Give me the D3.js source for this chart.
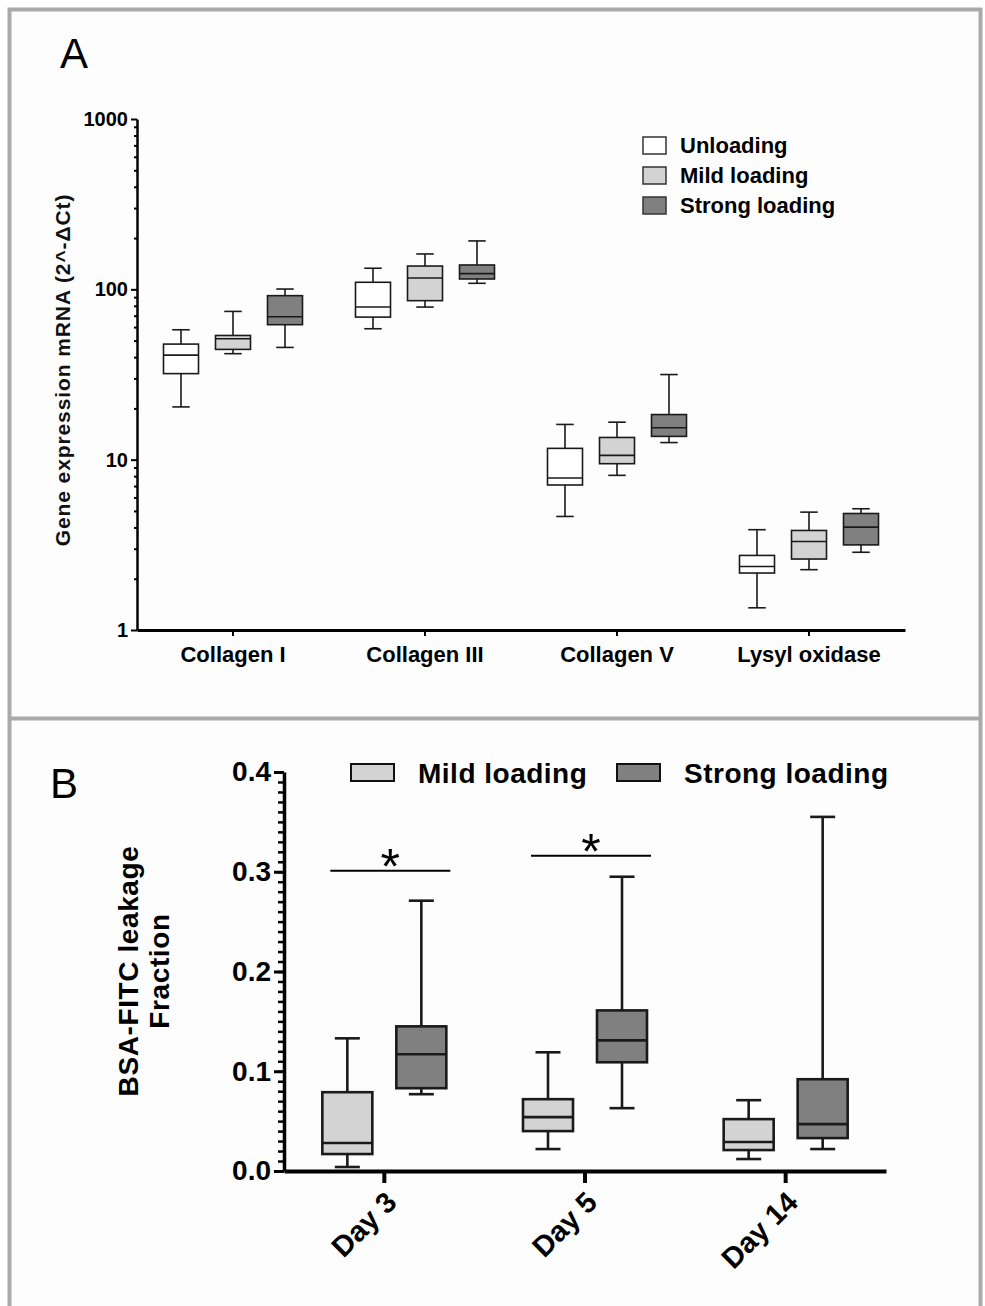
<!DOCTYPE html>
<html>
<head>
<meta charset="utf-8">
<script src="https://cdn.jsdelivr.net/npm/d3@7"></script>
<style>
  body { margin: 0; background: #fff; }
  svg { display: block; font-family: "Liberation Sans", Arial, sans-serif; }
</style>
</head>
<body>
<div id="fig"></div>
<script>
// panel A: gene expression, [min, q1, median, q3, max]
const genes = ['Collagen I', 'Collagen III', 'Collagen V', 'Lysyl oxidase'];
const groupsA = ['Unloading', 'Mild loading', 'Strong loading'];
const unloadingA = [[20.4, 32.0, 41.1, 47.7, 57.9], [58.7, 68.7, 78.7, 110, 133], [4.64, 7.1, 7.8, 11.65, 16.1], [1.35, 2.16, 2.36, 2.74, 3.88]];
const mildA = [[41.9, 44.4, 51.3, 53.6, 74.2], [78.7, 85.8, 116.6, 137, 161.3], [8.09, 9.47, 10.6, 13.5, 16.6], [2.26, 2.61, 3.31, 3.84, 4.92]];
const strongA = [[45.6, 62.0, 69.1, 91.8, 100.4], [108.5, 115, 123.7, 139, 192.4], [12.6, 13.7, 15.4, 18.4, 31.6], [2.86, 3.16, 4.02, 4.83, 5.15]];
const majorA = [1, 10, 100, 1000];

// panel B: BSA-FITC leakage fraction
const days = ['Day 3', 'Day 5', 'Day 14'];
const groupsB = ['Mild loading', 'Strong loading'];
const mildB = [[0.004, 0.017, 0.028, 0.079, 0.133], [0.022, 0.040, 0.054, 0.072, 0.119], [0.012, 0.021, 0.029, 0.052, 0.071]];
const strongB = [[0.077, 0.083, 0.117, 0.145, 0.271], [0.063, 0.109, 0.131, 0.161, 0.295], [0.022, 0.033, 0.047, 0.092, 0.355]];
const majorB = [0, 0.1, 0.2, 0.3, 0.4];
const sigDays = ['Day 3', 'Day 5'];
const sigLevels = [0.301, 0.316];

const fills = { 'Unloading': '#ffffff', 'Mild loading': '#d3d3d3', 'Strong loading': '#808080' };

const W = 985, H = 1306;
const svg = d3.select('#fig').append('svg').attr('width', W).attr('height', H);

// frame around both panels
svg.append('rect').attr('x', 9.5).attr('y', 9.5).attr('width', 971).attr('height', 1320)
    .attr('fill', '#fdfdfd').attr('stroke', '#aaa').attr('stroke-width', 4);
svg.append('line').attr('x1', 9).attr('x2', 981).attr('y1', 718.5).attr('y2', 718.5)
    .attr('stroke', '#aaa').attr('stroke-width', 4);

svg.append('text').attr('x', 60).attr('y', 68).attr('font-size', 42).text('A');
svg.append('text').attr('x', 50).attr('y', 798).attr('font-size', 42).text('B');

function drawBoxes(g, rows, cats, x, sub, y, name, boxW, sw) {
    const data = rows.map((r, i) => ({ cat: cats[i], v: r }));
    const grp = g.append('g').selectAll('g').data(data).join('g')
        .attr('transform', d => `translate(${x(d.cat) + x.bandwidth() / 2 + sub(name)},0)`)
        .attr('stroke', '#1a1a1a').attr('stroke-width', sw);
    grp.append('line').attr('x1', 0).attr('x2', 0).attr('y1', d => y(d.v[0])).attr('y2', d => y(d.v[1]));
    grp.append('line').attr('x1', 0).attr('x2', 0).attr('y1', d => y(d.v[3])).attr('y2', d => y(d.v[4]));
    grp.append('line').attr('x1', -boxW / 4).attr('x2', boxW / 4).attr('y1', d => y(d.v[0])).attr('y2', d => y(d.v[0]));
    grp.append('line').attr('x1', -boxW / 4).attr('x2', boxW / 4).attr('y1', d => y(d.v[4])).attr('y2', d => y(d.v[4]));
    grp.append('rect').attr('x', -boxW / 2).attr('width', boxW)
        .attr('y', d => y(d.v[3])).attr('height', d => y(d.v[1]) - y(d.v[3]))
        .attr('fill', fills[name]);
    grp.append('line').attr('x1', -boxW / 2).attr('x2', boxW / 2).attr('y1', d => y(d.v[2])).attr('y2', d => y(d.v[2]));
}

// ---------- panel A ----------
const gA = svg.append('g');
const xA = d3.scaleBand().domain(genes).range([137, 905]);
const yA = d3.scaleLog().domain([1, 1000]).range([630, 119]);
const subA = d3.scalePoint().domain(groupsA).range([-52, 52]);

const minorA = [];
majorA.slice(0, -1).forEach(m => d3.range(2, 10).forEach(k => minorA.push(m * k)));

gA.append('g').attr('transform', 'translate(137,0)')
    .call(d3.axisLeft(yA).tickValues(minorA).tickSize(3).tickFormat(''))
    .call(a => a.select('.domain').remove())
    .call(a => a.selectAll('line').attr('stroke-width', 2));
gA.append('g').attr('transform', 'translate(137,0)')
    .call(d3.axisLeft(yA).tickValues(majorA).tickSize(6).tickSizeOuter(0).tickPadding(3).tickFormat(d3.format('d')))
    .call(a => a.select('.domain').attr('stroke-width', 2.5))
    .call(a => a.selectAll('line').attr('stroke-width', 2))
    .call(a => a.selectAll('text').attr('font-size', 20).attr('font-weight', 'bold').attr('fill', '#000'));
gA.append('g').attr('transform', 'translate(0,630)')
    .call(d3.axisBottom(xA).tickSize(6).tickSizeOuter(0).tickPadding(10))
    .call(a => a.select('.domain').attr('stroke-width', 3))
    .call(a => a.selectAll('line').attr('stroke-width', 2))
    .call(a => a.selectAll('text').attr('font-size', 22).attr('font-weight', 'bold').attr('fill', '#000'));

gA.append('text').attr('transform', 'translate(70,370) rotate(-90)')
    .attr('text-anchor', 'middle').attr('font-size', 21).attr('font-weight', 'bold').attr('letter-spacing', 0.9)
    .attr('fill', '#111')
    .text('Gene expression mRNA (2^-ΔCt)');

[unloadingA, mildA, strongA].forEach((rows, i) => drawBoxes(gA, rows, genes, xA, subA, yA, groupsA[i], 35, 1.6));

const legA = gA.append('g').selectAll('g').data(groupsA).join('g')
    .attr('transform', (d, i) => `translate(643,${137 + i * 30})`);
legA.append('rect').attr('width', 23).attr('height', 17)
    .attr('fill', d => fills[d]).attr('stroke', '#333').attr('stroke-width', 1.5);
legA.append('text').attr('x', 37).attr('y', 16).attr('font-size', 22).attr('font-weight', 'bold').text(d => d);

// ---------- panel B ----------
const gB = svg.append('g');
const xB = d3.scaleBand().domain(days).range([284, 886]);
const yB = d3.scaleLinear().domain([0, 0.4]).range([1171, 772]);
const subB = d3.scalePoint().domain(groupsB).range([-37, 37]);

gB.append('g').attr('transform', 'translate(284,0)')
    .call(d3.axisLeft(yB).tickValues(d3.range(0, 41).map(i => i / 100)).tickSize(6).tickFormat(''))
    .call(a => a.select('.domain').remove())
    .call(a => a.selectAll('line').attr('stroke-width', 2.5));
gB.append('g').attr('transform', 'translate(284,0)')
    .call(d3.axisLeft(yB).tickValues(majorB).tickSize(10).tickSizeOuter(0).tickPadding(3).tickFormat(d3.format('.1f')))
    .call(a => a.select('.domain').attr('stroke-width', 3.5))
    .call(a => a.selectAll('line').attr('stroke-width', 3))
    .call(a => a.selectAll('text').attr('font-size', 28).attr('font-weight', 'bold').attr('fill', '#000'));
gB.append('g').attr('transform', 'translate(0,1171)')
    .call(d3.axisBottom(xB).tickSize(12).tickSizeOuter(0).tickFormat(''))
    .call(a => a.select('.domain').attr('stroke-width', 4))
    .call(a => a.selectAll('line').attr('stroke-width', 4));
gB.append('g').selectAll('text').data(days).join('text')
    .attr('transform', d => `translate(${xB(d) + xB.bandwidth() / 2 + 14},1204) rotate(-45)`)
    .attr('text-anchor', 'end').attr('font-size', 29).attr('font-weight', 'bold').text(d => d);

const titleB = gB.append('text').attr('transform', 'translate(138,971) rotate(-90)')
    .attr('text-anchor', 'middle').attr('font-size', 28).attr('font-weight', 'bold').attr('letter-spacing', 0.6);
titleB.append('tspan').attr('x', 0).attr('dy', 0).text('BSA-FITC leakage');
titleB.append('tspan').attr('x', 0).attr('dy', 31).text('Fraction');

[mildB, strongB].forEach((rows, i) => drawBoxes(gB, rows, days, xB, subB, yB, groupsB[i], 50, 2.6));

// significance bars
const sig = gB.append('g').selectAll('g').data(sigDays.map((d, i) => ({ day: d, v: sigLevels[i] }))).join('g')
    .attr('transform', d => `translate(${xB(d.day) + xB.bandwidth() / 2 + 6},${yB(d.v)})`);
sig.append('line').attr('x1', -60).attr('x2', 60).attr('stroke', '#000').attr('stroke-width', 2);
sig.append('text').attr('y', 13).attr('text-anchor', 'middle').attr('font-size', 50).text('*');

const legB = gB.append('g').selectAll('g').data(groupsB).join('g')
    .attr('transform', (d, i) => `translate(${351 + i * 266},764)`);
legB.append('rect').attr('width', 43).attr('height', 17)
    .attr('fill', d => fills[d]).attr('stroke', '#111').attr('stroke-width', 2);
legB.append('text').attr('x', 67).attr('y', 19).attr('font-size', 28).attr('font-weight', 'bold')
    .attr('letter-spacing', 0.5).text(d => d);
</script>
</body>
</html>
